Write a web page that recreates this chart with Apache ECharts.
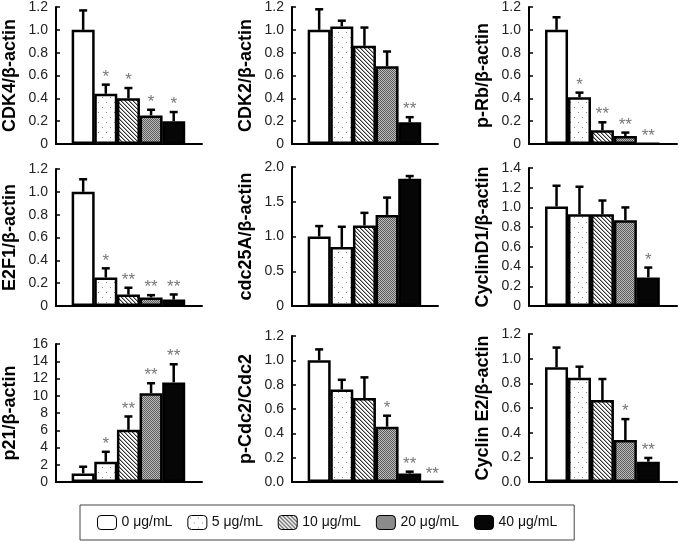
<!DOCTYPE html>
<html>
<head>
<meta charset="utf-8">
<script src="https://cdn.jsdelivr.net/npm/echarts@6/dist/echarts.min.js"></script>
<style>
html,body{margin:0;padding:0;background:#fff;}
#chart{width:679px;height:541px;}
</style>
</head>
<body>
<div id="chart"></div>
<script>
// ---------- DATA ----------
const doses = ['0 μg/mL', '5 μg/mL', '10 μg/mL', '20 μg/mL', '40 μg/mL'];
const panelNames = ['CDK4/β-actin', 'CDK2/β-actin', 'p-Rb/β-actin',
                    'E2F1/β-actin', 'cdc25A/β-actin', 'CyclinD1/β-actin',
                    'p21/β-actin', 'p-Cdc2/Cdc2', 'Cyclin E2/β-actin'];

const cdk4Val = [1.00, 0.44, 0.40, 0.25, 0.20];
const cdk4Err = [0.17, 0.08, 0.09, 0.05, 0.08];
const cdk4Sig = ['', '*', '*', '*', '*'];

const cdk2Val = [1.00, 1.03, 0.86, 0.68, 0.19];
const cdk2Err = [0.18, 0.05, 0.16, 0.13, 0.045];
const cdk2Sig = ['', '', '', '', '**'];

const pRbVal = [1.00, 0.41, 0.12, 0.07, 0.005];
const pRbErr = [0.11, 0.04, 0.07, 0.03, 0];
const pRbSig = ['', '*', '**', '**', '**'];

const e2f1Val = [1.00, 0.25, 0.10, 0.075, 0.056];
const e2f1Err = [0.11, 0.08, 0.06, 0.02, 0.045];
const e2f1Sig = ['', '*', '**', '**', '**'];

const cdc25aVal = [1.00, 0.85, 1.16, 1.31, 1.83];
const cdc25aErr = [0.15, 0.29, 0.18, 0.25, 0.04];
const cdc25aSig = ['', '', '', '', ''];

const cycD1Val = [1.01, 0.93, 0.93, 0.87, 0.29];
const cycD1Err = [0.21, 0.28, 0.14, 0.13, 0.10];
const cycD1Sig = ['', '', '', '', '*'];

const p21Val = [1.0, 2.35, 6.05, 10.3, 11.55];
const p21Err = [0.77, 1.15, 1.55, 1.15, 2.1];
const p21Sig = ['', '*', '**', '**', '**'];

// p-Cdc2 panel has an extra unlabeled near-zero point after the 40 μg/mL bar
const pCdc2Val = [1.00, 0.76, 0.69, 0.455, 0.07, 0.005];
const pCdc2Err = [0.09, 0.08, 0.17, 0.09, 0.015, 0];
const pCdc2Sig = ['', '', '', '*', '**', '**'];

const cycE2Val = [0.93, 0.845, 0.665, 0.34, 0.165];
const cycE2Err = [0.16, 0.09, 0.17, 0.17, 0.03];
const cycE2Sig = ['', '', '', '*', '**'];

const yMax  = [1.2, 1.2, 1.2, 1.2, 2.0, 1.4, 16, 1.2, 1.2];
const yStep = [0.2, 0.2, 0.2, 0.2, 0.5, 0.2, 2, 0.2, 0.2];
const yDecimals = [1, 1, 1, 1, 1, 1, 0, 1, 1];
const zeroLabels = ['0', '0', '0', '0', '0', '0', '0', '0.0', '0.0'];

const panelVals = [cdk4Val, cdk2Val, pRbVal, e2f1Val, cdc25aVal, cycD1Val, p21Val, pCdc2Val, cycE2Val];
const panelErrs = [cdk4Err, cdk2Err, pRbErr, e2f1Err, cdc25aErr, cycD1Err, p21Err, pCdc2Err, cycE2Err];
const panelSigs = [cdk4Sig, cdk2Sig, pRbSig, e2f1Sig, cdc25aSig, cycD1Sig, p21Sig, pCdc2Sig, cycE2Sig];

// ---------- LAYOUT / STYLE ----------
const FONT = '"Liberation Sans", Arial, sans-serif';
const colLeft = [55, 292, 529];
const colWidth = [147, 146, 148];
const panelTop = [7, 7, 6, 169, 167, 168, 344, 336, 334];
const panelBottom = [144, 144, 144, 306, 306, 306, 482, 482, 482];

function makePattern(w, h, draw) {
  const c = document.createElement('canvas');
  c.width = w; c.height = h;
  const ctx = c.getContext('2d');
  draw(ctx);
  return { image: c, repeat: 'repeat' };
}
const patDots = makePattern(8, 10, ctx => {
  ctx.fillStyle = '#fff'; ctx.fillRect(0, 0, 8, 10);
  ctx.fillStyle = '#8a8a8a';
  ctx.fillRect(2, 2, 1, 1); ctx.fillRect(6, 7, 1, 1);
});
const patHatch = makePattern(4, 4, ctx => {
  ctx.fillStyle = '#fff'; ctx.fillRect(0, 0, 4, 4);
  for (let i = 0; i < 4; i++) {
    ctx.fillStyle = '#333'; ctx.fillRect(i, i, 1, 1);
    ctx.fillStyle = '#aaa'; ctx.fillRect((i + 1) % 4, i, 1, 1);
  }
});
const patGrey = makePattern(2, 2, ctx => {
  ctx.fillStyle = '#bdbdbd'; ctx.fillRect(0, 0, 2, 2);
  ctx.fillStyle = '#5a5a5a'; ctx.fillRect(0, 0, 1, 1); ctx.fillRect(1, 1, 1, 1);
});
const fills = ['#ffffff', patDots, patHatch, patGrey, '#060606'];

const BAR_W = 23;
const grids = [], xAxes = [], yAxes = [], series = [];

panelNames.forEach((name, p) => {
  const col = p % 3;
  grids.push({ left: colLeft[col], width: colWidth[col], top: panelTop[p], height: panelBottom[p] - panelTop[p] });
  xAxes.push({
    gridIndex: p, type: 'value', min: -1.2, max: 5.25,
    axisLine: { show: true, onZero: false, lineStyle: { color: '#000', width: 2 } },
    axisTick: { show: false }, axisLabel: { show: false }, splitLine: { show: false }
  });
  yAxes.push({
    gridIndex: p, type: 'value', min: 0, max: yMax[p], interval: yStep[p],
    name: name, nameLocation: 'middle', nameGap: 37, nameRotate: 90,
    nameTextStyle: { fontFamily: FONT, fontWeight: 'bold', fontSize: 18, color: '#000' },
    axisLine: { show: true, onZero: false, lineStyle: { color: '#000', width: 2 } },
    axisTick: { show: true, inside: true, length: 4, lineStyle: { color: '#000', width: 1.5 } },
    axisLabel: {
      fontFamily: FONT, fontSize: 14, color: '#222', margin: 8,
      formatter: v => (v === 0 ? zeroLabels[p] : v.toFixed(yDecimals[p]))
    },
    splitLine: { show: false }
  });
  const vals = panelVals[p], errs = panelErrs[p], sigs = panelSigs[p];
  series.push({
    type: 'bar', xAxisIndex: p, yAxisIndex: p, barWidth: BAR_W, barGap: '-100%',
    clip: true, silent: true, z: 2,
    data: vals.map((v, i) => ({
      value: [i, v],
      itemStyle: { color: fills[Math.min(i, 4)], borderColor: '#000', borderWidth: 2.5 }
    }))
  });
  series.push({
    type: 'custom', xAxisIndex: p, yAxisIndex: p, z: 3, silent: true,
    encode: { x: 0, y: 1 },
    data: vals.map((v, i) => [i, v, errs[i]]),
    renderItem: (params, api) => {
      const i = params.dataIndex;
      const v = vals[i], e = errs[i];
      const base = api.coord([i, v]);
      const top = api.coord([i, v + e]);
      const children = [];
      if (e > 0) {
        children.push({ type: 'line', shape: { x1: base[0], y1: base[1], x2: top[0], y2: top[1] },
          style: { stroke: '#000', lineWidth: 2.5 } });
        children.push({ type: 'line', shape: { x1: top[0] - 4, y1: top[1], x2: top[0] + 4, y2: top[1] },
          style: { stroke: '#000', lineWidth: 2.5 } });
      }
      if (sigs[i]) {
        children.push({ type: 'text', x: top[0], y: top[1] + 1,
          style: { text: sigs[i], fill: '#777', font: '17px ' + FONT, align: 'center', verticalAlign: 'bottom' } });
      }
      return { type: 'group', children: children };
    }
  });
});

// legend-only series
doses.forEach((d, i) => {
  series.push({
    type: 'bar', name: d, xAxisIndex: 0, yAxisIndex: 0, barWidth: BAR_W, barGap: '-100%', data: [],
    itemStyle: { color: fills[i], borderColor: '#000', borderWidth: 1 }
  });
});

const chart = echarts.init(document.getElementById('chart'), null, { renderer: 'canvas' });
chart.setOption({
  animation: false,
  backgroundColor: '#fff',
  grid: grids, xAxis: xAxes, yAxis: yAxes,
  legend: {
    data: doses, left: 80, top: 505, orient: 'horizontal',
    padding: [10, 17, 10, 17], itemWidth: 19, itemHeight: 14, itemGap: 15,
    borderColor: '#444', borderWidth: 1, selectedMode: false,
    itemStyle: { borderColor: '#000', borderWidth: 1 },
    textStyle: { fontFamily: FONT, fontSize: 14, color: '#111' }
  },
  series: series
});
</script>
</body>
</html>
